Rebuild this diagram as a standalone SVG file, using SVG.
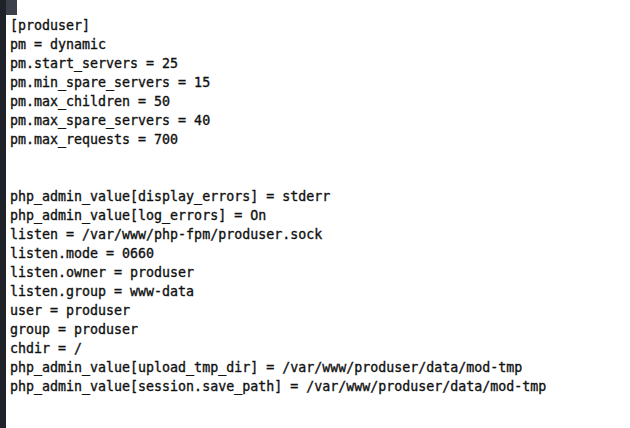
<svg xmlns="http://www.w3.org/2000/svg" width="630" height="428" viewBox="0 0 630 428">
<style>
.t{font-family:"DejaVu Sans Mono","Liberation Mono",monospace;font-size:13.3px;fill:#111;stroke:#111;stroke-width:0.35px;white-space:pre}
</style>
<rect x="0" y="0" width="630" height="428" fill="#ffffff"/>
<rect x="0" y="0" width="17" height="15" fill="#3b404a"/>
<rect x="0" y="0" width="6" height="428" fill="#1f2229"/>
<g id="config">
<text class="t" x="10" y="30">[produser]</text>
<text class="t" x="10" y="49">pm = dynamic</text>
<text class="t" x="10" y="68">pm.start_servers = 25</text>
<text class="t" x="10" y="87">pm.min_spare_servers = 15</text>
<text class="t" x="10" y="106">pm.max_children = 50</text>
<text class="t" x="10" y="125">pm.max_spare_servers = 40</text>
<text class="t" x="10" y="144">pm.max_requests = 700</text>
<text class="t" x="10" y="201">php_admin_value[display_errors] = stderr</text>
<text class="t" x="10" y="220">php_admin_value[log_errors] = On</text>
<text class="t" x="10" y="239">listen = /var/www/php-fpm/produser.sock</text>
<text class="t" x="10" y="258">listen.mode = 0660</text>
<text class="t" x="10" y="277">listen.owner = produser</text>
<text class="t" x="10" y="296">listen.group = www-data</text>
<text class="t" x="10" y="315">user = produser</text>
<text class="t" x="10" y="334">group = produser</text>
<text class="t" x="10" y="353">chdir = /</text>
<text class="t" x="10" y="372">php_admin_value[upload_tmp_dir] = /var/www/produser/data/mod-tmp</text>
<text class="t" x="10" y="391">php_admin_value[session.save_path] = /var/www/produser/data/mod-tmp</text>
</g>
</svg>
